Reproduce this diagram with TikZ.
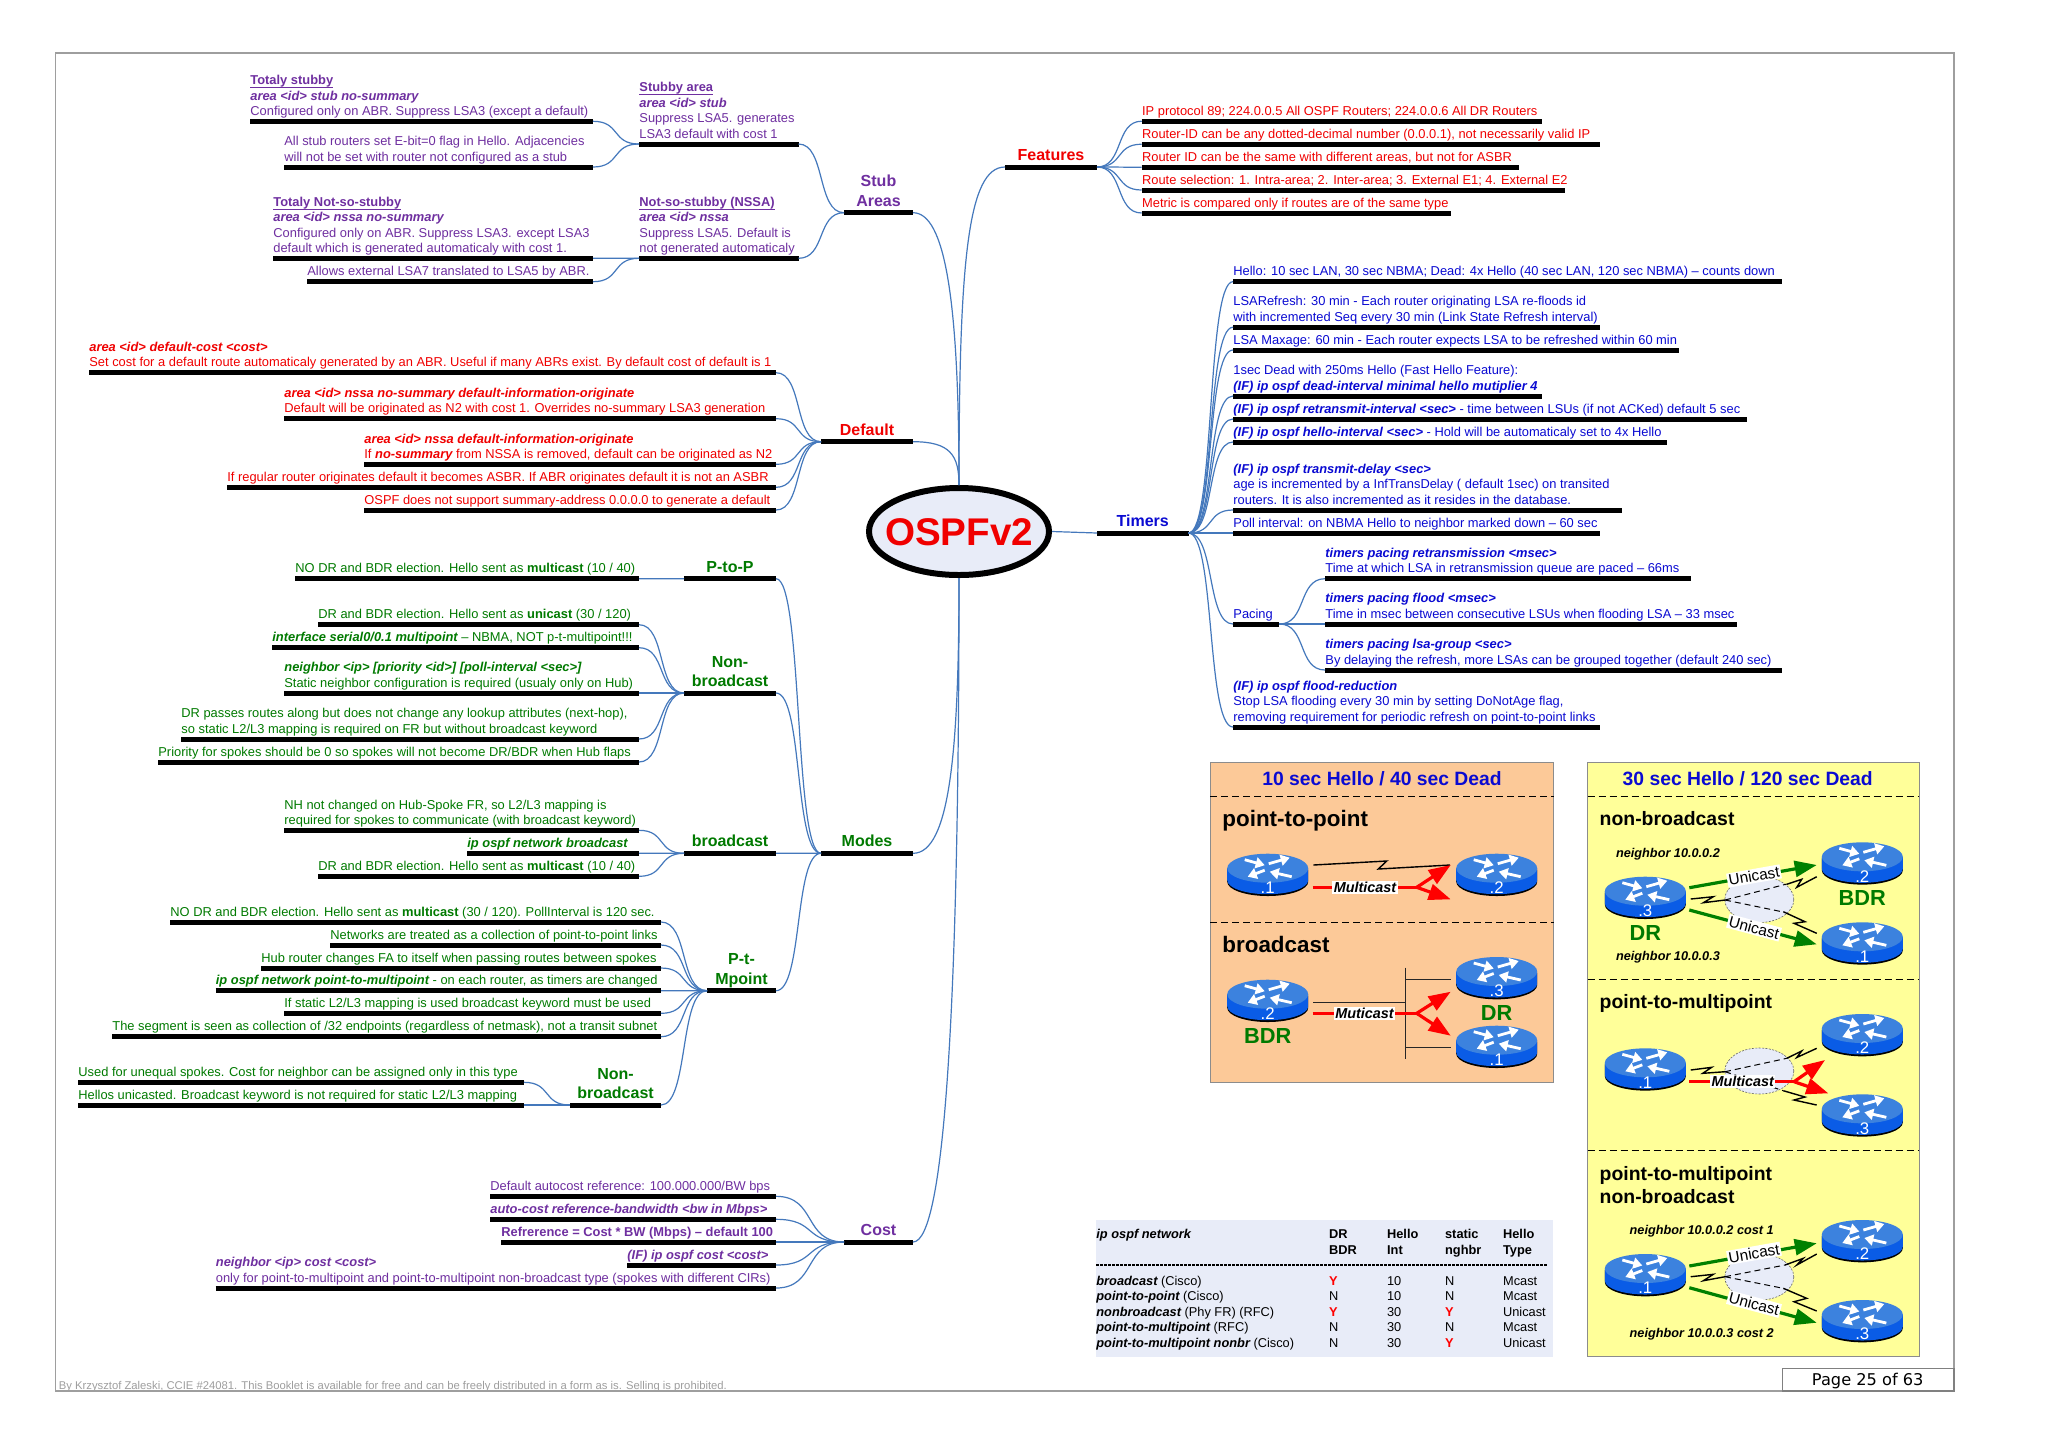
\documentclass[tikz,border=0pt]{standalone}
\usepackage{fontspec}
\setmainfont{Liberation Sans}
\newfontfamily\pagefont{DejaVu Sans}
\usetikzlibrary{calc,arrows.meta,shapes.geometric}
\definecolor{txtpur}{HTML}{6F2FA0}
\definecolor{txtred}{HTML}{F00000}
\definecolor{txtgrn}{HTML}{007A00}
\definecolor{txtblu}{HTML}{0A0AD2}
\definecolor{conncol}{HTML}{4478BC}
\definecolor{rtop}{HTML}{3C82DE}
\definecolor{rside}{HTML}{0A5CE6}
\definecolor{boxorange}{HTML}{FCC998}
\definecolor{boxyellow}{HTML}{FFFF99}
\definecolor{cloudfill}{HTML}{E8ECF8}
\newcommand\cbi[1]{{\bfseries\itshape #1}}
\newcommand\hd[1]{\underline{\smash{\textbf{#1}}}}
\newcommand\tp[6]{%
  \coordinate (#1-l) at (#2,#4);\coordinate (#1-r) at (#3,#4);
  \node[leaf,#5,anchor=south west] (#1) at ($(#1-l)+(0,-5.5)$) {#6};
  \draw[barline] (#1-l) -- (#1-r);}
\newcommand\ttl[6]{%
  \coordinate (#1-l) at (#2,#4);\coordinate (#1-r) at (#3,#4);
  \node[title,#5,anchor=south] (#1) at ($($(#1-l)!.5!(#1-r)$)+(0,-6)$) {#6};
  \draw[barline] (#1-l) -- (#1-r);}
\newcommand\cn[2]{\draw[conn] (#1) .. controls ($(#1)!.6!(#2 |- #1)$) and ($(#2)!.6!(#1 |- #2)$) .. (#2);}
\newcommand\trow[7]{%
  \node[tcell] (#1-a) at (1096,#2) {#3};
  \node[tcell] (#1-b) at (1328.7,#2) {#4};
  \node[tcell] (#1-c) at (1386.7,#2) {#5};
  \node[tcell] (#1-d) at (1444.7,#2) {#6};
  \node[tcell] (#1-e) at (1502.7,#2) {#7};}
\newcommand\ry{\textcolor{red}{\textbf{Y}}}
\tikzset{
  leaf/.style={font=\fontsize{6.44}{7.7}\selectfont,align=left,inner sep=0pt,text depth=0pt},
  title/.style={font=\fontsize{8}{9.7}\selectfont\bfseries,align=center,inner sep=0pt,text depth=0pt},
  pur/.style={text=txtpur},redt/.style={text=txtred},grn/.style={text=txtgrn},blu/.style={text=txtblu},
  barline/.style={draw=black,line width=2.5pt},
  conn/.style={draw=conncol,line width=.6pt},
  rootnode/.style={ellipse,draw=black,line width=3pt,fill=cloudfill,minimum width=90pt,minimum height=43.5pt,inner sep=0pt,
     text=txtred,font=\fontsize{19.3}{22}\selectfont\bfseries},
  box/.style={draw=black!45,line width=.5pt},
  sep/.style={draw=black,line width=.5pt,dash pattern=on 3.5pt off 2pt},
  boxtitle/.style={text=txtblu,font=\fontsize{9.65}{11}\selectfont\bfseries,inner sep=0pt},
  sect/.style={anchor=south west,text depth=0pt,font=\fontsize{11.2}{13.2}\selectfont\bfseries,inner sep=0pt,align=left},
  ysect/.style={sect,font=\fontsize{9.7}{11.7}\selectfont\bfseries},
  role/.style={text=txtgrn,font=\fontsize{10.9}{12}\selectfont\bfseries,inner sep=0pt},
  cmt/.style={anchor=base west,font=\fontsize{6.35}{7.5}\selectfont\bfseries\itshape,inner sep=0pt},
  bolt/.style={draw=black,line width=.7pt},
  thin link/.style={draw=black!85,line width=.5pt},
  vc/.style={draw=black,line width=.5pt,dash pattern=on 3pt off 2pt},
  cloud/.style={ellipse,draw=black!60,dash pattern=on 1pt off .7pt,line width=.3pt,fill=cloudfill,minimum width=34.5pt,minimum height=23pt,inner sep=0pt},
  redl/.style={draw=red,line width=1.6pt},
  redarr/.style={redl,-{Triangle[length=11pt,width=8pt]}},
  grnarr/.style={draw=green!50!black,line width=1.6pt,-{Triangle[length=11pt,width=8pt]}},
  lnk/.style={fill=white,inner sep=.7pt,font=\fontsize{7.2}{8}\selectfont\bfseries\itshape},
  ulnk/.style={fill=white,inner sep=.7pt,font=\fontsize{7.7}{8}\selectfont},
  tcell/.style={anchor=base west,inner sep=0pt,font=\fontsize{6.4}{7.7}\selectfont},
  rarrow/.style={draw=white,line width=1.4pt,-{Triangle[length=4.5pt,width=5.5pt]}},
  router/.pic={
    \fill[black] (-40.5,16) -- (-40.5,28) arc[x radius=40.5,y radius=-14.3,start angle=180,end angle=360] -- (40.5,16) -- cycle;
    \fill[rside] (-40.5,14.5) -- (-40.5,26.5) arc[x radius=40.5,y radius=-14,start angle=180,end angle=360] -- (40.5,14.5) -- cycle;
    \fill[rtop] (0,14.5) ellipse[x radius=40.5,y radius=14.5];
    \draw[rarrow] (-23,6) -- (-3,11.5);
    \draw[rarrow] (1,10) -- (22,4);
    \draw[rarrow] (-3,16.5) -- (-20,23);
    \draw[rarrow] (24,23) -- (2,18);
    \node[text=white,inner sep=0pt,font=\fontsize{8.4}{9}\selectfont] (-lab) at (0,34) {#1};
  }
}
\begin{document}
\begin{tikzpicture}[x=.5pt,y=-.5pt]
\useasboundingbox (0,0) rectangle (2048,1447);
\fill[white] (0,0) rectangle (2048,1447);
\draw[draw=black!38,line width=.9pt] (55.5,53) rectangle (1954,1391);
\node[anchor=base west,inner sep=0pt,text=black!38,font=\fontsize{5.63}{6}\selectfont] (footer) at (58.5,1389) {By Krzysztof Zaleski, CCIE \#24081. This Booklet is available for free and can be freely distributed in a form as is. Selling is prohibited.};
\draw[draw=black!50,line width=.6pt] (1782.3,1368.3) rectangle (1954,1391);
\node[inner sep=0pt,font=\pagefont\fontsize{8.1}{9}\selectfont] (page) at (1867.7,1381) {Page 25 of 63};

% ---- root
\node[rootnode] (root) at (959,531.5) {\raisebox{-.36em}[0pt][0pt]{\makebox[0pt]{OSPFv2}}};

% ---- stub areas
\tp{ts}{250}{593}{121.3}{pur}{\hd{Totaly stubby}\\\cbi{area <id> stub no-summary}\\Configured only on ABR. Suppress LSA3 (except a default)}
\tp{tsb}{284}{593}{167}{pur}{All stub routers set E-bit=0 flag in Hello. Adjacencies\\will not be set with router not configured as a stub}
\tp{sa}{639}{798.5}{144}{pur}{\hd{Stubby area}\\\cbi{area <id> stub}\\Suppress LSA5. generates\\LSA3 default with cost 1}
\tp{tn}{273}{593}{258.3}{pur}{\hd{Totaly Not-so-stubby}\\\cbi{area <id> nssa no-summary}\\Configured only on ABR. Suppress LSA3. except LSA3\\default which is generated automaticaly with cost 1.}
\tp{tnb}{307}{593}{281.7}{pur}{Allows external LSA7 translated to LSA5 by ABR.}
\tp{ns}{639}{798.5}{258.3}{pur}{\hd{Not-so-stubby (NSSA)}\\\cbi{area <id> nssa}\\Suppress LSA5. Default is\\not generated automaticaly}
\ttl{stub}{844}{913}{212.7}{pur}{Stub\\Areas}
\cn{sa-l}{ts-r}\cn{sa-l}{tsb-r}\cn{ns-l}{tn-r}\cn{ns-l}{tnb-r}\cn{stub-l}{sa-r}\cn{stub-l}{ns-r}

% ---- default
\tp{da}{89}{776}{372.7}{redt}{\cbi{area <id> default-cost <cost>}\\Set cost for a default route automaticaly generated by an ABR. Useful if many ABRs exist. By default cost of default is 1}
\tp{db}{284}{776}{418.7}{redt}{\cbi{area <id> nssa no-summary default-information-originate}\\Default will be originated as N2 with cost 1. Overrides no-summary LSA3 generation}
\tp{dc}{364}{776}{464.3}{redt}{\cbi{area <id> nssa default-information-originate}\\If \cbi{no-summary} from NSSA is removed, default can be originated as N2}
\tp{dd}{227}{776}{487.3}{redt}{If regular router originates default it becomes ASBR. If ABR originates default it is not an ASBR}
\tp{de}{364}{776}{510}{redt}{OSPF does not support summary-address 0.0.0.0 to generate a default}
\ttl{dflt}{821}{913}{441.7}{redt}{Default}
\cn{dflt-l}{da-r}\cn{dflt-l}{db-r}\cn{dflt-l}{dc-r}\cn{dflt-l}{dd-r}\cn{dflt-l}{de-r}

% ---- modes
\tp{pa}{295}{639}{578.7}{grn}{NO DR and BDR election. Hello sent as \textbf{multicast} (10 / 40)}
\ttl{ptp}{684}{776}{578.7}{grn}{P-to-P}
\tp{na}{318}{639}{624.7}{grn}{DR and BDR election. Hello sent as \textbf{unicast} (30 / 120)}
\tp{nb}{272}{639}{647.7}{grn}{\cbi{interface serial0/0.1 multipoint} – NBMA, NOT p-t-multipoint!!!}
\tp{nc}{284}{639}{693}{grn}{\cbi{neighbor <ip> [priority <id>] [poll-interval <sec>]}\\Static neighbor configuration is required (usualy only on Hub)}
\tp{nd}{181}{639}{739}{grn}{DR passes routes along but does not change any lookup attributes (next-hop),\\so static L2/L3 mapping is required on FR but without broadcast keyword}
\tp{ne}{158}{639}{762}{grn}{Priority for spokes should be 0 so spokes will not become DR/BDR when Hub flaps}
\ttl{nbc}{684}{776}{693}{grn}{Non-\\broadcast}
\tp{ba}{284}{639}{830.3}{grn}{NH not changed on Hub-Spoke FR, so L2/L3 mapping is\\required for spokes to communicate (with broadcast keyword)}
\tp{bb}{467}{639}{853.3}{grn}{\cbi{ip ospf network broadcast}}
\tp{bc}{318}{639}{876.3}{grn}{DR and BDR election. Hello sent as \textbf{multicast} (10 / 40)}
\ttl{bcast}{684}{776}{853.3}{grn}{broadcast}
\tp{ma}{170}{661}{922}{grn}{NO DR and BDR election. Hello sent as \textbf{multicast} (30 / 120). PollInterval is 120 sec.}
\tp{mb}{330}{661}{945}{grn}{Networks are treated as a collection of point-to-point links}
\tp{mc}{261}{661}{968}{grn}{Hub router changes FA to itself when passing routes between spokes}
\tp{md}{215.5}{661}{990.7}{grn}{\cbi{ip ospf network point-to-multipoint} - on each router, as timers are changed}
\tp{me}{284}{661}{1013.3}{grn}{If static L2/L3 mapping is used broadcast keyword must be used}
\tp{mf}{112}{661}{1036.7}{grn}{The segment is seen as collection of /32 endpoints (regardless of netmask), not a transit subnet}
\ttl{ptm}{707}{776}{990.7}{grn}{P-t-\\Mpoint}
\tp{xa}{78}{524}{1082.3}{grn}{Used for unequal spokes. Cost for neighbor can be assigned only in this type}
\tp{xb}{78}{524}{1105}{grn}{Hellos unicasted. Broadcast keyword is not required for static L2/L3 mapping}
\ttl{nbc2}{570}{661}{1105}{grn}{Non-\\broadcast}
\ttl{modes}{821}{913}{853.3}{grn}{Modes}
\cn{ptp-l}{pa-r}
\cn{nbc-l}{na-r}\cn{nbc-l}{nb-r}\cn{nbc-l}{nc-r}\cn{nbc-l}{nd-r}\cn{nbc-l}{ne-r}
\cn{bcast-l}{ba-r}\cn{bcast-l}{bb-r}\cn{bcast-l}{bc-r}
\cn{ptm-l}{ma-r}\cn{ptm-l}{mb-r}\cn{ptm-l}{mc-r}\cn{ptm-l}{md-r}\cn{ptm-l}{me-r}\cn{ptm-l}{mf-r}\cn{ptm-l}{nbc2-r}
\cn{nbc2-l}{xa-r}\cn{nbc2-l}{xb-r}
\cn{modes-l}{ptp-r}\cn{modes-l}{nbc-r}\cn{modes-l}{bcast-r}\cn{modes-l}{ptm-r}

% ---- cost
\tp{ca}{490}{776}{1196.3}{pur}{Default autocost reference: 100.000.000/BW bps}
\tp{cb}{490}{776}{1219.3}{pur}{\cbi{auto-cost reference-bandwidth <bw in Mbps>}}
\tp{cc}{501}{776}{1242}{pur}{\textbf{Refrerence = Cost * BW (Mbps) – default 100}}
\tp{cd}{627}{776}{1265}{pur}{\cbi{(IF) ip ospf cost <cost>}}
\tp{ce}{215.5}{776}{1288}{pur}{\cbi{neighbor <ip> cost <cost>}\\only for point-to-multipoint and point-to-multipoint non-broadcast type (spokes with different CIRs)}
\ttl{cost}{844}{913}{1242}{pur}{Cost}
\cn{cost-l}{ca-r}\cn{cost-l}{cb-r}\cn{cost-l}{cc-r}\cn{cost-l}{cd-r}\cn{cost-l}{ce-r}

% ---- features
\ttl{feat}{1005}{1097}{167}{redt}{Features}
\tp{fa}{1141.7}{1542}{121.2}{redt}{IP protocol 89; 224.0.0.5 All OSPF Routers; 224.0.0.6 All DR Routers}
\tp{fb}{1141.7}{1599.6}{144.2}{redt}{Router-ID can be any dotted-decimal number (0.0.0.1), not necessarily valid IP}
\tp{fc}{1141.7}{1519.4}{167.2}{redt}{Router ID can be the same with different areas, but not for ASBR}
\tp{fd}{1141.7}{1565}{190}{redt}{Route selection: 1. Intra-area; 2. Inter-area; 3. External E1; 4. External E2}
\tp{fe}{1141.7}{1451}{213}{redt}{Metric is compared only if routes are of the same type}
\cn{feat-r}{fa-l}\cn{feat-r}{fb-l}\cn{feat-r}{fc-l}\cn{feat-r}{fd-l}\cn{feat-r}{fe-l}

% ---- timers
\ttl{tim}{1097}{1188.5}{533}{blu}{Timers}
\tp{ta}{1233}{1782}{281.6}{blu}{Hello: 10 sec LAN, 30 sec NBMA; Dead: 4x Hello (40 sec LAN, 120 sec NBMA) – counts down}
\tp{tb}{1233}{1599.6}{327.2}{blu}{LSARefresh: 30 min - Each router originating LSA re-floods id\\with incremented Seq every 30 min (Link State Refresh interval)}
\tp{tc}{1233}{1679}{350}{blu}{LSA Maxage: 60 min - Each router expects LSA to be refreshed within 60 min}
\tp{td}{1233}{1542}{396}{blu}{1sec Dead with 250ms Hello (Fast Hello Feature):\\\cbi{(IF) ip ospf dead-interval minimal hello mutiplier 4}}
\tp{te}{1233}{1747}{419}{blu}{\cbi{(IF) ip ospf retransmit-interval <sec>} - time between LSUs (if not ACKed) default 5 sec}
\tp{tf}{1233}{1667}{442}{blu}{\cbi{(IF) ip ospf hello-interval <sec>} - Hold will be automaticaly set to 4x Hello}
\tp{tg}{1233}{1622}{510}{blu}{\cbi{(IF) ip ospf transmit-delay <sec>}\\age is incremented by a InfTransDelay ( default 1sec) on transited\\routers. It is also incremented as it resides in the database.}
\tp{th}{1233}{1599.6}{533}{blu}{Poll interval: on NBMA Hello to neighbor marked down – 60 sec}
\tp{pac}{1233}{1279.4}{624}{blu}{Pacing}
\tp{pa1}{1325}{1690.5}{578.7}{blu}{\cbi{timers pacing retransmission <msec>}\\Time at which LSA in retransmission queue are paced – 66ms}
\tp{pa2}{1325}{1736.6}{624}{blu}{\cbi{timers pacing flood <msec>}\\Time in msec between consecutive LSUs when flooding LSA – 33 msec}
\tp{pa3}{1325}{1782}{670}{blu}{\cbi{timers pacing lsa-group <sec>}\\By delaying the refresh, more LSAs can be grouped together (default 240 sec)}
\tp{ti}{1233}{1599.6}{727}{blu}{\cbi{(IF) ip ospf flood-reduction}\\Stop LSA flooding every 30 min by setting DoNotAge flag,\\removing requirement for periodic refresh on point-to-point links}
\cn{tim-r}{ta-l}\cn{tim-r}{tb-l}\cn{tim-r}{tc-l}\cn{tim-r}{td-l}\cn{tim-r}{te-l}\cn{tim-r}{tf-l}\cn{tim-r}{tg-l}\cn{tim-r}{th-l}\cn{tim-r}{pac-l}\cn{tim-r}{ti-l}
\cn{pac-r}{pa1-l}\cn{pac-r}{pa2-l}\cn{pac-r}{pa3-l}

% ---- root links
\draw[conn] (stub-r) .. controls (945,212.7) and (959,300) .. (root.north);
\draw[conn] (feat-l) .. controls (968,167) and (959,260) .. (root.north);
\draw[conn] (dflt-r) .. controls (950,441.7) and (959,455) .. (root.north);
\draw[conn] (modes-r) .. controls (950,853.3) and (959,750) .. (root.south);
\draw[conn] (cost-r) .. controls (945,1242) and (959,1000) .. (root.south);
\draw[conn] (root.east) -- (tim-l);

% ---- orange box
\draw[box,fill=boxorange] (1210.3,762) rectangle (1553.7,1082.3);
\draw[sep] (1210.3,796.3) -- (1553.7,796.3);
\draw[sep] (1210.3,922.3) -- (1553.7,922.3);
\node[boxtitle] (otitle) at (1382,778.5) {10 sec Hello / 40 sec Dead};
\node[sect] (s1) at (1222,827) {point-to-point};
\node[sect] (s2) at (1222,953) {broadcast};
\pic (o1) at (1267.7,853.7) {router=.1};
\pic (o2) at (1496.7,853.7) {router=.2};
\pic (o3) at (1267.7,979.7) {router=.2};
\pic (o4) at (1496.7,957) {router=.3};
\pic (o5) at (1496.7,1025.7) {router=.1};
\node[role] (obdr) at (1267.7,1036) {BDR};
\node[role] (odr) at (1496.7,1012.7) {DR};
\draw[bolt] (1313.3,865) -- (1386.7,861) -- (1378.3,869) -- (1450,865);
\coordinate (of1) at (1416.7,887.3);
\draw[redl] (1312.7,887.3) -- (of1);
\draw[redarr] (of1) -- (1450.7,865);
\draw[redarr] (of1) -- (1450.7,899.3);
\node[lnk] (ol1) at (1365,887.3) {Multicast};
\draw[thin link] (1405,967.7) -- (1405,1059.3);
\draw[thin link] (1313.3,1002.3) -- (1405,1002.3);
\draw[thin link] (1405,979.3) -- (1450.7,979.3);
\draw[thin link] (1405,1047.7) -- (1450.7,1047.7);
\coordinate (of2) at (1416.7,1013.3);
\draw[redl] (1312.7,1013.3) -- (of2);
\draw[redarr] (of2) -- (1450.7,991.7);
\draw[redarr] (of2) -- (1450.7,1035.7);
\node[lnk] (ol2) at (1364.5,1013.3) {Muticast};

% ---- yellow box
\draw[box,fill=boxyellow] (1587.7,762) rectangle (1919.3,1356.7);
\draw[sep] (1587.7,796.3) -- (1919.3,796.3);
\draw[sep] (1587.7,979.3) -- (1919.3,979.3);
\draw[sep] (1587.7,1150.7) -- (1919.3,1150.7);
\node[boxtitle] (ytitle) at (1747.7,778.5) {30 sec Hello / 120 sec Dead};
\node[ysect] (y1) at (1599.3,826) {non-broadcast};
\node[ysect] (y2) at (1599.3,1009.3) {point-to-multipoint};
\node[ysect] (y3) at (1599.3,1204) {point-to-multipoint\\non-broadcast};
% non-broadcast
\node[cloud] (c1) at (1759.3,899.5) {};
\pic (a1) at (1862.3,842.3) {router=.2};
\pic (a2) at (1862.3,922.3) {router=.1};
\pic (a3) at (1645.3,876.7) {router=.3};
\node[role] (abdr) at (1862.3,898.3) {BDR};
\node[role] (adr) at (1645.3,932.7) {DR};
\node[cmt] (an1) at (1615.7,857.3) {neighbor 10.0.0.2};
\node[cmt] (an2) at (1615.7,960) {neighbor 10.0.0.3};
\draw[bolt] (1690.7,899) -- (1713.3,896.7) -- (1703.3,902.7) -- (1725,900);
\draw[vc] (1725,900) -- (1786.7,884);
\draw[vc] (1725,900) -- (1783.3,912);
\draw[bolt] (1786.7,884.3) -- (1801.7,879.3) -- (1796.7,887.3) -- (1816.7,876.7);
\draw[bolt] (1783.3,911.7) -- (1805,921.7) -- (1794,923.3) -- (1816.7,933.3);
\draw[grnarr] (1689.3,887.7) -- (1816.7,865);
\draw[grnarr] (1689.3,910) -- (1816.7,944.3);
\node[ulnk,rotate=10] (au1) at (1754,876) {Unicast};
\node[ulnk,rotate=-15] (au2) at (1754,927.7) {Unicast};
% point-to-multipoint
\node[cloud] (c2) at (1759.3,1071) {};
\pic (b1) at (1862.3,1014) {router=.2};
\pic (b2) at (1862.3,1094.3) {router=.3};
\pic (b3) at (1645.3,1048.3) {router=.1};
\draw[bolt] (1690.7,1070) -- (1711.7,1067.3) -- (1702.7,1073.3) -- (1725,1071.7);
\draw[vc] (1725,1071.7) -- (1786.7,1058.3);
\draw[bolt] (1786.7,1058.3) -- (1801.7,1051) -- (1796.7,1057.5) -- (1816.7,1048.3);
\draw[vc] (1725,1071.7) -- (1783.3,1090.7);
\draw[bolt] (1783.3,1090.7) -- (1805,1097) -- (1794,1100) -- (1816.7,1105);
\coordinate (bf) at (1794,1081.7);
\draw[redl] (1689.3,1081.7) -- (bf);
\draw[redarr] (bf) -- (1825,1060);
\draw[redarr] (bf) -- (1828.3,1093.3);
\node[lnk] (bl) at (1742.7,1081.7) {Multicast};
% point-to-multipoint non-broadcast
\node[cloud] (c3) at (1759.3,1277) {};
\pic (d1) at (1862.3,1220) {router=.2};
\pic (d2) at (1862.3,1300) {router=.3};
\pic (d3) at (1645.3,1254) {router=.1};
\node[cmt] (dn1) at (1629.3,1234.3) {neighbor 10.0.0.2 cost 1};
\node[cmt] (dn2) at (1629.3,1337.7) {neighbor 10.0.0.3 cost 2};
\draw[bolt] (1690.7,1276.7) -- (1713.3,1274.3) -- (1703.3,1280.7) -- (1725,1276.7);
\draw[vc] (1725,1276.7) -- (1785,1265);
\draw[vc] (1725,1276.7) -- (1783.3,1288.3);
\draw[bolt] (1785,1265) -- (1803.3,1258.3) -- (1796.7,1265) -- (1816.7,1254);
\draw[bolt] (1783.3,1288.3) -- (1806.7,1298.3) -- (1794,1301.7) -- (1816.7,1311);
\draw[grnarr] (1689.3,1266) -- (1816.7,1243.3);
\draw[grnarr] (1689.3,1287.7) -- (1816.7,1322.7);
\node[ulnk,rotate=10] (du1) at (1754,1253.3) {Unicast};
\node[ulnk,rotate=-15] (du2) at (1754,1304) {Unicast};

% ---- table
\fill[cloudfill] (1096,1220) rectangle (1553.3,1356.7);
\trow{h1}{1238.3}{\cbi{ip ospf network}}{\textbf{DR}}{\textbf{Hello}}{\textbf{static}}{\textbf{Hello}}
\trow{h2}{1254}{}{\textbf{BDR}}{\textbf{Int}}{\textbf{nghbr}}{\textbf{Type}}
\draw[draw=black,line width=.6pt,dash pattern=on 1.5pt off .5pt] (1096,1265) -- (1547,1265);
\trow{r1}{1285.3}{\cbi{broadcast} (Cisco)}{\ry}{10}{N}{Mcast}
\trow{r2}{1300.6}{\cbi{point-to-point} (Cisco)}{N}{10}{N}{Mcast}
\trow{r3}{1316}{\cbi{nonbroadcast} (Phy FR) (RFC)}{\ry}{30}{\ry}{Unicast}
\trow{r4}{1331.3}{\cbi{point-to-multipoint} (RFC)}{N}{30}{N}{Mcast}
\trow{r5}{1347}{\cbi{point-to-multipoint nonbr} (Cisco)}{N}{30}{\ry}{Unicast}
\end{tikzpicture}
\end{document}
